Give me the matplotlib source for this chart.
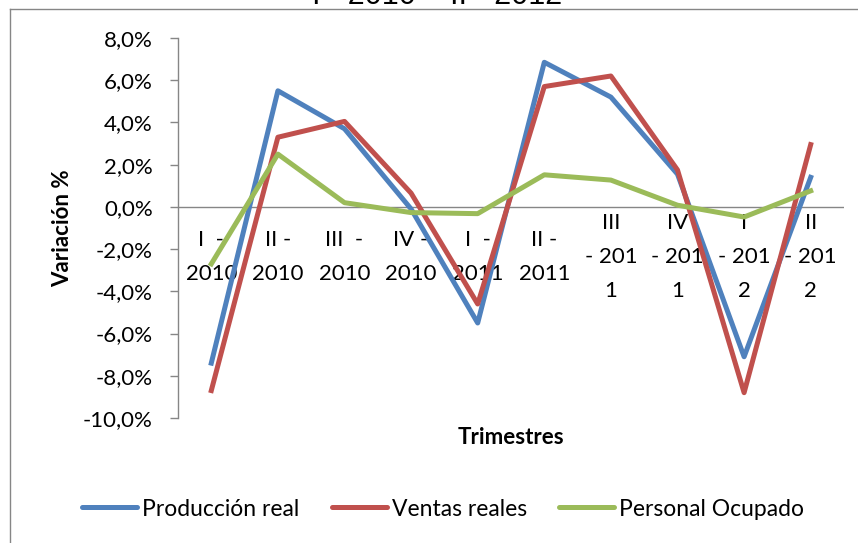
import matplotlib
matplotlib.use('Agg')
import matplotlib.pyplot as plt
from matplotlib.lines import Line2D
from matplotlib.ticker import FuncFormatter
import matplotlib.transforms as mtransforms

categories = ["I  -\n2010", "II -\n2010", "III  -\n2010", "IV -\n2010", "I  -\n2011",
              "II -\n2011", "III\n- 201\n1", "IV\n- 201\n1", "I\n- 201\n2", "II\n- 201\n2"]
produccion = [-7.4, 5.5, 3.7, -0.1, -5.5, 6.85, 5.2, 1.55, -7.1, 1.4]
ventas = [-8.7, 3.3, 4.05, 0.65, -4.6, 5.7, 6.2, 1.75, -8.8, 2.95]
personal = [-2.7, 2.5, 0.2, -0.27, -0.32, 1.52, 1.27, 0.08, -0.48, 0.76]
y_ticks = [-10, -8, -6, -4, -2, 0, 2, 4, 6, 8]
series_names = ["Producción real", "Ventas reales", "Personal Ocupado"]
title = "I - 2010 – II - 2012"

W, H = 858, 543
FONT = "Lato"
FS = 16
plt.rcParams['font.family'] = [FONT, 'DejaVu Sans']

fig = plt.figure(figsize=(W / 100, H / 100), dpi=100)
ax = fig.add_axes([178 / W, 1 - 418 / H, (844 - 178) / W, (418 - 38) / H])

colors = ["#4F81BD", "#C0504D", "#9BBB59"]
x = list(range(len(categories)))
ax.axhline(0, color="#868686", lw=1.0, zorder=1)
for vals, c, name in zip([produccion, ventas, personal], colors, series_names):
    ax.plot(x, vals, color=c, lw=3.6, label=name, zorder=3)

ax.set_xlim(-0.5, len(categories) - 0.5)
ax.set_ylim(-10, 8)
ax.set_yticks(y_ticks)
ax.yaxis.set_major_formatter(FuncFormatter(lambda v, p: f"{v:.1f}%".replace(".", ",")))
ax.set_xticks([])
for s in ["top", "right", "bottom"]:
    ax.spines[s].set_visible(False)
ax.spines["left"].set_color("#868686")
ax.spines["left"].set_linewidth(1.0)
ax.tick_params(axis="y", direction="out", length=6, color="#868686", width=1.0,
               labelsize=FS, pad=12)

trans = mtransforms.blended_transform_factory(ax.transData, fig.transFigure)
for xi, lab in zip(x, categories):
    ax.text(xi, 1 - 257 / H, lab, transform=trans, ha="center", va="center",
            fontsize=FS, linespacing=1.85, zorder=2)

fig.text(511 / W, 1 - 438 / H, "Trimestres", ha="center", va="center",
         fontsize=FS, fontweight="bold")
fig.text(63 / W, 1 - 228 / H, "Variación %", ha="center", va="center",
         rotation=90, fontsize=FS, fontweight="bold")

fig.text(437 / W, 1 - 4 / H, title, ha="center", va="baseline", fontsize=22,
         family=["Liberation Sans", "DejaVu Sans"])

handles = [Line2D([], [], color=c, lw=3.6, solid_capstyle="round") for c in colors]
fig.legend(handles, series_names, loc="center", bbox_to_anchor=(443 / W, 1 - 509 / H),
           ncol=3, frameon=False, fontsize=16.5, handlelength=2.4, handletextpad=0.22,
           columnspacing=1.4)

fig.add_artist(Line2D([9.5 / W, 1], [1 - 8.5 / H, 1 - 8.5 / H], transform=fig.transFigure,
                      color="#868686", lw=1.0))
fig.add_artist(Line2D([9.5 / W, 9.5 / W], [0, 1 - 8.5 / H], transform=fig.transFigure,
                      color="#868686", lw=1.0))

fig.savefig("out.png", dpi=100)
